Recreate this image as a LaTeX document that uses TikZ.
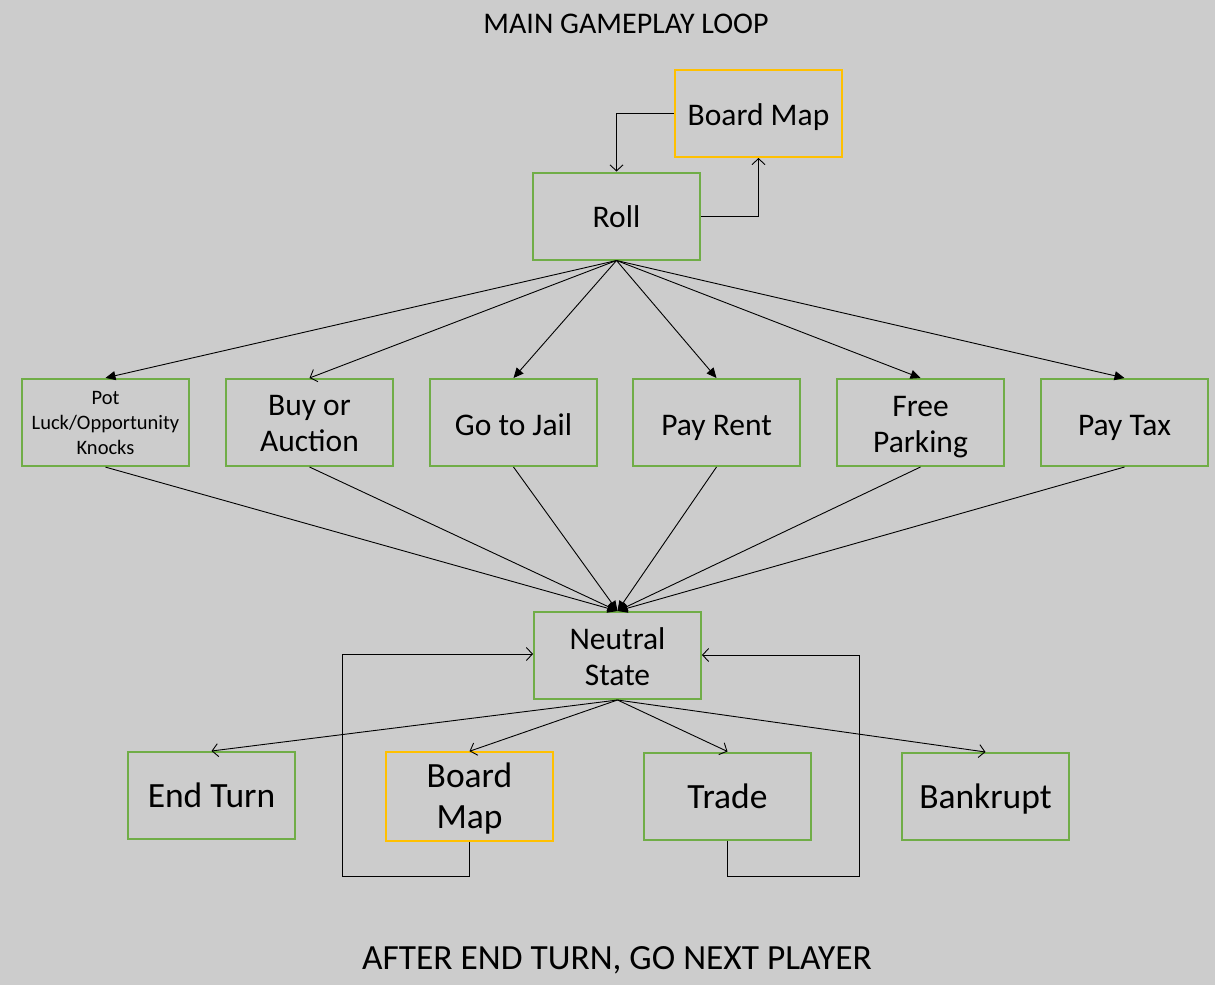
\documentclass[tikz,border=0pt]{standalone}
\usepackage{fontspec}
\setmainfont{Carlito}
\usetikzlibrary{arrows.meta}
\definecolor{bg}{RGB}{204,204,204}
\definecolor{grn}{RGB}{112,173,71}
\definecolor{ylw}{RGB}{255,192,0}
\newcommand\mlTop[1]{\rule{0pt}{#1}}
\newcommand\mlBot{\rule[-10pt]{0pt}{10pt}}
\begin{document}
\begin{tikzpicture}[x=1pt,y=-1pt,
  box/.style={rectangle,draw=grn,line width=2pt,minimum width=167pt,minimum height=87pt,align=center,inner sep=2pt,font=\fontsize{31.5}{36}\selectfont},
  one/.style={text height=23.5pt,text depth=0pt},
  big/.style={font=\fontsize{35.5}{41.6}\selectfont},
  bigone/.style={big,text height=24.9pt,text depth=0pt},
  ybox/.style={box,draw=ylw},
  conn/.style={draw=black,line width=0.9pt},
  opena/.style={conn,-{Straight Barb[length=6pt,width=13pt]}},
  filla/.style={conn,-{Triangle[length=10pt,width=9pt]}}]
\fill[bg] (0,0) rectangle (1215,985);
\useasboundingbox (0,0) rectangle (1215,985);
\node[font=\fontsize{30}{34}\selectfont,text height=19pt,text depth=0pt] (title) at (626,24) {MAIN GAMEPLAY LOOP};
\node[font=\fontsize{35.4}{40}\selectfont,text height=22.8pt,text depth=0pt] (foot) at (617,958.5) {AFTER END TURN, GO NEXT PLAYER};
\node[ybox,one] (bm1) at (758.5,113.5) {Board Map};
\node[box,text height=22pt,text depth=0pt] (roll) at (616.5,216) {Roll};
\node[box,font=\fontsize{20.5}{25}\selectfont] (pot) at (105.5,422.5) {\mlTop{23.2pt}Pot\\Luck/Opportunity\\Knocks\mlBot};
\node[box] (buy) at (309.5,422.5) {\mlTop{31.5pt}Buy or\\Auction\mlBot};
\node[box,text height=25pt,text depth=0pt] (jail) at (513.5,422.5) {Go to Jail};
\node[box,text height=25pt,text depth=0pt] (rent) at (716.5,422.5) {Pay Rent};
\node[box] (free) at (920.5,422.5) {\mlTop{33.3pt}Free\\Parking\mlBot};
\node[box,text height=25pt,text depth=0pt] (tax) at (1124.5,422.5) {Pay Tax};
\node[box] (ns) at (617.5,655.5) {\mlTop{34.3pt}Neutral\\State\mlBot};
\node[box,bigone] (end) at (211.5,795.5) {End Turn};
\node[ybox,big] (bm2) at (469.5,796.5) {\mlTop{32.9pt}Board\\Map\mlBot};
\node[box,bigone] (trade) at (727.5,796) {Trade};
\node[box,bigone] (bank) at (985.5,796.5) {Bankrupt};
% roll <-> board map
\draw[opena] (bm1.west) -| (roll.north);
\draw[opena] (roll.east) -| (bm1.south);
% roll to choices
\draw[filla] (roll.south) -- (pot.north);
\draw[opena] (roll.south) -- (buy.north);
\draw[filla] (roll.south) -- (jail.north);
\draw[filla] (roll.south) -- (rent.north);
\draw[filla] (roll.south) -- (free.north);
\draw[filla] (roll.south) -- (tax.north);
% choices to neutral
\foreach \n in {pot,buy,jail,rent,free,tax}
  \draw[filla] (\n.south) -- (ns.north);
% neutral to options
\draw[opena] (ns.south) -- (end.north);
\draw[opena] (ns.south) -- (bm2.north);
\draw[opena] (ns.south) -- (trade.north);
\draw[opena] (ns.south) -- (bank.north);
% loops back
\coordinate (l1) at (342,876);
\coordinate (r1) at (859,876);
\draw[opena] (bm2.south) |- (l1) |- ([yshift=1.5pt]ns.west);
\draw[opena] (trade.south) |- (r1) |- ([yshift=0.5pt]ns.east);
\end{tikzpicture}
\end{document}
